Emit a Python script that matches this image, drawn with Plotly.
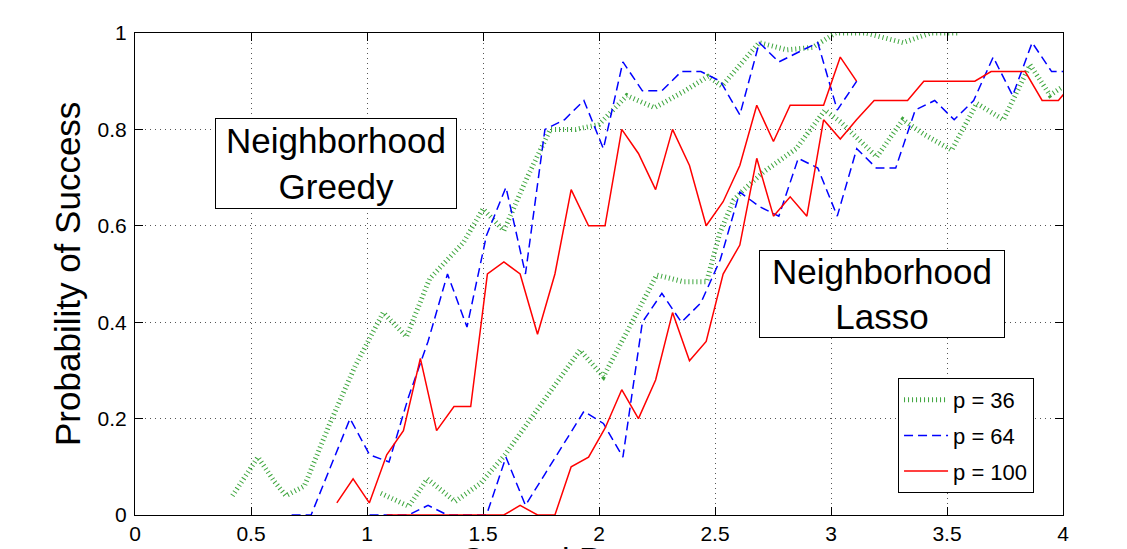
import plotly.graph_objects as go

# ---------------- data ----------------
# p = 100 (red, solid)
x100_greedy = [0.87, 0.94, 1.01, 1.085, 1.157, 1.23, 1.30, 1.375, 1.447, 1.519, 1.59, 1.66, 1.735, 1.81,
               1.88, 1.955, 2.026, 2.098, 2.17, 2.244, 2.317, 2.39, 2.462, 2.535, 2.607, 2.68, 2.752,
               2.824, 2.896, 2.968, 3.04, 3.11]
y100_greedy = [0.025, 0.075, 0.025, 0.125, 0.175, 0.325, 0.175, 0.225, 0.225, 0.5, 0.525, 0.5, 0.375, 0.5,
               0.675, 0.6, 0.6, 0.8, 0.75, 0.675, 0.8, 0.725, 0.6, 0.65, 0.725, 0.85, 0.775,
               0.85, 0.85, 0.85, 0.95, 0.9]
x100_lasso = [1.085, 1.157, 1.23, 1.30, 1.375, 1.447, 1.519, 1.59, 1.66, 1.735, 1.81, 1.88, 1.955, 2.026,
              2.098, 2.17, 2.244, 2.317, 2.39, 2.462, 2.535, 2.607, 2.68, 2.752, 2.824, 2.896, 2.968,
              3.04, 3.11, 3.186, 3.26, 3.33, 3.40, 3.47, 3.545, 3.62, 3.69, 3.765, 3.837, 3.91, 3.98, 4.05]
y100_lasso = [0, 0, 0, 0, 0, 0, 0, 0, 0.02, 0, 0, 0.1, 0.12, 0.18,
              0.26, 0.2, 0.28, 0.42, 0.32, 0.36, 0.5, 0.56, 0.74, 0.62, 0.66, 0.62, 0.82,
              0.78, 0.82, 0.86, 0.86, 0.86, 0.9, 0.9, 0.9, 0.9, 0.92, 0.92, 0.92, 0.86, 0.86, 0.9]

# p = 64 (blue, dashed)
x64_greedy = [0.675, 0.759, 0.843, 0.927, 1.011, 1.095, 1.179, 1.263, 1.347, 1.431, 1.515, 1.599, 1.683,
              1.767, 1.851, 1.935, 2.019, 2.103, 2.187, 2.271, 2.355, 2.439, 2.523, 2.607, 2.691, 2.775,
              2.859, 2.943, 3.027, 3.111]
y64_greedy = [0, 0, 0.1, 0.2, 0.125, 0.11, 0.245, 0.36, 0.5, 0.39, 0.58, 0.68, 0.5,
              0.8, 0.82, 0.86, 0.76, 0.94, 0.88, 0.88, 0.92, 0.92, 0.9, 0.83, 0.98, 0.94,
              0.96, 0.98, 0.84, 0.9]
x64_lasso = [1.011, 1.095, 1.179, 1.263, 1.347, 1.431, 1.515, 1.599, 1.683, 1.767, 1.851, 1.935, 2.019,
             2.103, 2.187, 2.271, 2.355, 2.439, 2.523, 2.607, 2.691, 2.775, 2.859, 2.943, 3.027, 3.111,
             3.195, 3.279, 3.363, 3.447, 3.531, 3.615, 3.699, 3.783, 3.867, 3.951, 4.035]
y64_lasso = [0, 0, 0, 0.02, 0, 0, 0, 0.12, 0.02, 0.085, 0.15, 0.215, 0.19,
             0.12, 0.4, 0.46, 0.4, 0.44, 0.53, 0.67, 0.64, 0.62, 0.74, 0.72, 0.62, 0.76,
             0.72, 0.72, 0.84, 0.86, 0.82, 0.86, 0.95, 0.87, 0.98, 0.92, 0.92]

# p = 36 (green, dotted)
x36_greedy = [0.42, 0.53, 0.60, 0.65, 0.73, 0.84, 0.95, 1.07, 1.17, 1.27, 1.415, 1.50, 1.59, 1.69, 1.79,
              1.90, 2.0, 2.12, 2.24, 2.37, 2.47, 2.53, 2.69, 2.81, 2.92, 3.02, 3.15, 3.31, 3.43, 3.55]
y36_greedy = [0.04, 0.12, 0.07, 0.04, 0.06, 0.19, 0.31, 0.42, 0.37, 0.49, 0.565, 0.635, 0.59, 0.70, 0.80,
              0.80, 0.81, 0.87, 0.845, 0.88, 0.91, 0.89, 0.98, 0.965, 0.97, 1.0, 1.0, 0.98, 1.0, 1.0]
x36_lasso = [1.06, 1.18, 1.26, 1.38, 1.49, 1.595, 1.70, 1.81, 1.918, 2.019, 2.13, 2.249, 2.364, 2.464,
             2.52, 2.58, 2.622, 2.71, 2.85, 2.974, 3.04, 3.197, 3.31, 3.40, 3.52, 3.628, 3.743, 3.858,
             3.944, 4.0]
y36_lasso = [0.045, 0.018, 0.075, 0.028, 0.066, 0.125, 0.196, 0.27, 0.342, 0.287, 0.39, 0.498, 0.484, 0.484,
             0.584, 0.653, 0.674, 0.712, 0.76, 0.84, 0.816, 0.743, 0.82, 0.79, 0.757, 0.854, 0.82, 0.934,
             0.871, 0.889]

x_ticks = [0, 0.5, 1, 1.5, 2, 2.5, 3, 3.5, 4]
x_ticklabels = ["0", "0.5", "1", "1.5", "2", "2.5", "3", "3.5", "4"]
y_ticks = [0, 0.2, 0.4, 0.6, 0.8, 1]
y_ticklabels = ["0", "0.2", "0.4", "0.6", "0.8", "1"]

series = [
    ("p = 36", x36_greedy, y36_greedy, x36_lasso, y36_lasso),
    ("p = 64", x64_greedy, y64_greedy, x64_lasso, y64_lasso),
    ("p = 100", x100_greedy, y100_greedy, x100_lasso, y100_lasso),
]

# ---------------- styles ----------------
FONT = "Liberation Sans, Arial, Helvetica, sans-serif"
line_styles = {
    "p = 36": dict(color="#3da53d", width=5, dash="1px,3px"),
    "p = 64": dict(color="#0000ff", width=1.5, dash="9px,5px"),
    "p = 100": dict(color="#ff0000", width=1.5),
}

fig = go.Figure()
for name, xg, yg, xl, yl in series:
    fig.add_trace(go.Scatter(x=xg, y=yg, mode="lines", name=name, legendgroup=name,
                             showlegend=False, line=line_styles[name]))
    fig.add_trace(go.Scatter(x=xl, y=yl, mode="lines", name=name, legendgroup=name,
                             showlegend=True, line=line_styles[name]))

axis_common = dict(
    showline=True, linecolor="black", linewidth=1, mirror="ticks",
    ticks="inside", ticklen=8, tickwidth=1, tickcolor="black",
    showgrid=True, gridcolor="#555555", gridwidth=1, griddash="1px,4px",
    zeroline=False, tickfont=dict(family=FONT, size=21, color="black"),
    layer="below traces", automargin=False,
)

# the page body adds an 8px offset, margins compensate for it
fig.update_layout(
    width=1127, height=549,
    margin=dict(l=127, r=72, t=25, b=42),
    paper_bgcolor="white", plot_bgcolor="white",
    font=dict(family=FONT, color="black"),
    xaxis=dict(range=[0, 4], tickvals=x_ticks, ticktext=x_ticklabels, **axis_common),
    yaxis=dict(range=[0, 1], tickvals=y_ticks, ticktext=y_ticklabels, ticklabelstandoff=3, **axis_common),
    showlegend=True,
    legend=dict(x=0.9688, y=0.0456, xanchor="right", yanchor="bottom",
                bordercolor="black", borderwidth=1, bgcolor="white",
                font=dict(family=FONT, size=22, color="black"),
                tracegroupgap=4, itemwidth=44),
)

box_style = dict(showarrow=False, bordercolor="black", borderwidth=1, bgcolor="white",
                 borderpad=0, font=dict(family=FONT, size=35, color="black"))
fig.add_annotation(x=0.866, y=0.729, xref="x", yref="y", text="Neighborhood<br>Greedy",
                   width=240, height=89, **box_style)
fig.add_annotation(x=3.22, y=0.458, xref="x", yref="y", text="Neighborhood<br>Lasso",
                   width=244, height=86, **box_style)

fig.add_annotation(x=-0.0733, y=0.5, xref="paper", yref="paper", text="Probability of Success",
                   textangle=-90, showarrow=False, xanchor="center", yanchor="middle",
                   font=dict(family=FONT, size=35, color="black"))
fig.add_annotation(x=0.5, y=-0.047, xref="paper", yref="paper", text="Control Parameter",
                   showarrow=False, xanchor="center", yanchor="top",
                   font=dict(family=FONT, size=34, color="black"))

fig.write_html("out.html")
